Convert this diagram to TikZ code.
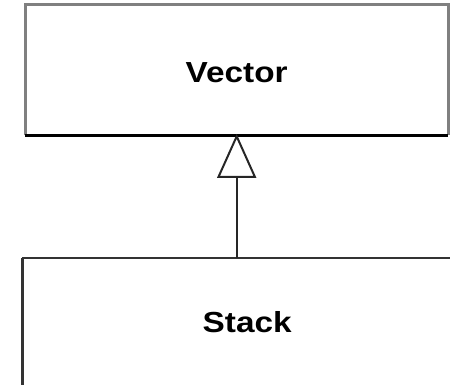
\documentclass[tikz,border=0pt]{standalone}
\usepackage{fontspec}
\setmainfont{Liberation Sans}
\usetikzlibrary{arrows.meta}
\begin{document}
\begin{tikzpicture}[x=1pt,y=-1pt,
  classbox/.style={rectangle,draw=none,inner sep=0pt,anchor=north west},
  classname/.style={font=\fontsize{29}{33}\selectfont\bfseries},
  inherit/.style={draw=black!85,line width=2pt,
    -{Triangle[open,length=44pt,width=39pt,line width=2pt]}}]
  \useasboundingbox (0,0) rectangle (450,385);
  \clip (0,0) rectangle (450,385);
  % class boxes
  \node[classbox,minimum width=423pt,minimum height=130pt] (vector) at (25,5) {};
  \node[classbox,minimum width=450pt,minimum height=127pt] (stack) at (22,258) {};
  % Vector outline: grey frame, dark lower edge
  \draw[gray,line width=3pt] (vector.south west) -- (vector.north west)
    -- (vector.north east) -- (vector.south east);
  \draw[black,line width=3pt] (vector.south west) -- (vector.south east);
  % Stack outline: dark upper and left edges, light lower edge
  \draw[black!80,line width=2pt] (stack.north east) -- (stack.north west);
  \draw[black!80,line width=3pt] (stack.north west) -- (stack.south west);
  \draw[gray!50,line width=1.5pt] (stack.south west) -- (stack.south east);
  % labels
  \node[classname] (vlabel) at ([yshift=-2pt]vector.center) {\scalebox{1.15}[1]{Vector}};
  \node[classname] (slabel) at ([yshift=-1pt]stack.center |- 0,321) {\scalebox{1.15}[1]{Stack}};
  % generalization
  \draw[inherit] (stack.north -| vector.south) -- ([yshift=1.5pt]vector.south);
\end{tikzpicture}
\end{document}
